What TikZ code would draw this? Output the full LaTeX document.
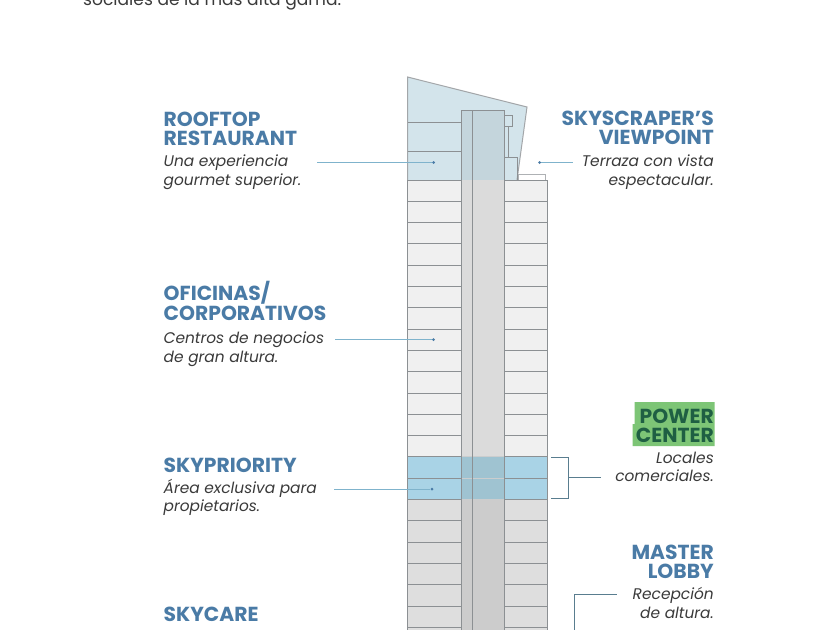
\documentclass[tikz,border=0pt]{standalone}
\usepackage{fontspec}
\setmainfont{Poppins}
\definecolor{headblue}{HTML}{4A7BA6}
\definecolor{leadblue}{HTML}{7FB3CC}
\definecolor{roofblue}{HTML}{D3E4EB}
\definecolor{coreblue}{HTML}{C4D5DC}
\definecolor{bandblue}{HTML}{A9D3E6}
\definecolor{bandcore}{HTML}{9FC3D1}
\definecolor{powergreen}{HTML}{7DC576}
\definecolor{powertext}{HTML}{1F5F43}
\definecolor{gridline}{HTML}{8C9093}
\definecolor{bodytext}{HTML}{3A3A3A}
\tikzset{
	headleft/.style={anchor=north west,align=left,inner sep=0pt,font=\fontsize{20.3}{19.3}\selectfont\bfseries,text=headblue},
	headright/.style={anchor=north east,align=right,inner sep=0pt,font=\fontsize{20.3}{19.3}\selectfont\bfseries,text=headblue},
	subleft/.style={anchor=north west,align=left,inner sep=0pt,font=\fontsize{15.4}{18.3}\selectfont\itshape,text=bodytext},
	subright/.style={anchor=north east,align=right,inner sep=0pt,font=\fontsize{15.4}{18.3}\selectfont\itshape,text=bodytext},
	leadline/.style={draw=leadblue,line width=1pt},
	enddot/.style={circle,fill=headblue,inner sep=0pt,minimum size=3pt},
	gridrule/.style={draw=gridline,line width=1pt},
}
\begin{document}
\begin{tikzpicture}[x=1pt,y=-1pt]
	\def\xa{407.5}
	\def\xb{461}
	\def\xc{472}
	\def\xd{504.5}
	\def\xe{547.5}
	\def\rowh{21.3}
	\def\ytop{180}
	\useasboundingbox (0,0) rectangle (840,630);
	\fill[white] (0,0) rectangle (840,630);
	
	% roof
	\fill[roofblue] (\xa,77) -- (527,107) -- (517,180) -- (\xa,180) -- cycle;
	\draw[gridrule,draw=gridline!80] (\xa,180) -- (\xa,77) -- (527,107) -- (517,180);
	\fill[coreblue] (\xb,110.5) rectangle (\xd,180);
	\draw[gridrule] (\xb,180) -- (\xb,110.5) -- (\xd,110.5) -- (\xd,180);
	\draw[gridrule] (\xc,110.5) -- (\xc,180);
	\draw[gridrule] (\xa,122.5) -- (\xb,122.5);
	\draw[gridrule] (\xa,151.5) -- (\xb,151.5);
	\draw[gridrule,line width=0.7pt] (\xd,115) rectangle (512.5,126.5);
	\draw[gridrule,line width=0.7pt] (508.5,126.5) -- (508.5,157);
	\draw[gridrule,line width=0.7pt] (\xd,157) -- (517,157) -- (517,180);
	\draw[gridline!70,line width=0.7pt] (518,180) -- (518,174) -- (545.5,174) -- (545.5,180);
	
	% floors
	\fill[black!6] (\xa,\ytop) rectangle (\xe,457);
	\fill[black!14] (\xb,\ytop) rectangle (\xd,457);
	\fill[bandblue] (\xa,457) rectangle (\xe,499.5);
	\fill[bandcore] (\xb,457) rectangle (\xd,499.5);
	\fill[black!13] (\xa,499.5) rectangle (\xe,630);
	\fill[black!20] (\xb,499.5) rectangle (\xd,630);
	\foreach \i in {0,...,21} {
		\pgfmathsetmacro{\y}{\ytop+\i*\rowh}
		\draw[gridrule] (\xa,\y) -- (\xb,\y);
		\draw[gridrule] (\xd,\y) -- (\xe,\y);
		\ifnum\i=13
		\draw[gridrule,draw=gridline!45] (\xb,\y) -- (\xd,\y);
		\fi
		\ifnum\i=14
		\draw[gridrule,draw=gridline!45] (\xb,\y) -- (\xd,\y);
		\fi
		\ifnum\i=15
		\draw[gridrule,draw=gridline!45] (\xb,\y) -- (\xd,\y);
		\fi
	}
	\foreach \x in {\xa,\xb,\xc,\xd,\xe} {
		\draw[gridrule] (\x,\ytop) -- (\x,630);
	}
	
	% top paragraph
	\node[anchor=north west,inner sep=0pt,font=\fontsize{17.1}{20}\selectfont,text=bodytext] (intro) at (83,-8.5) {sociales de la más alta gama.};
	
	% left labels
	\node[headleft] (rooftop) at (163.5,111.5) {ROOFTOP\\RESTAURANT};
	\node[subleft] (rooftoptxt) at (163.5,155) {Una experiencia\\gourmet superior.};
	\node[headleft] (oficinas) at (163.5,281.5) {OFICINAS/\\CORPORATIVOS};
	\node[subleft] (oficinastxt) at (163.5,332) {Centros de negocios\\de gran altura.};
	\node[headleft] (skyprio) at (163.5,457.5) {SKYPRIORITY};
	\node[subleft] (skypriotxt) at (163.5,479) {Área exclusiva para\\propietarios.};
	\node[headleft] (skycare) at (163.5,606.5) {SKYCARE};
	
	% right labels
	\fill[powergreen] (634.5,402) rectangle (714.5,424) (632.5,424) rectangle (714.5,446);
	\node[headright,text=powertext] (power) at (714,408.5) {POWER\\CENTER};
	\node[subright] (powertxt) at (714,452) {Locales\\comerciales.};
	\node[headright] (viewpoint) at (714,111) {SKYSCRAPER'S\\VIEWPOINT};
	\node[subright] (viewpointtxt) at (714,155) {Terraza con vista\\espectacular.};
	\node[headright] (lobby) at (714,544.5) {MASTER\\LOBBY};
	\node[subright] (lobbytxt) at (714,587.5) {Recepción\\de altura.};
	
	% leaders
	\node[enddot] (dotroof) at (433.5,162.5) {};
	\node[enddot] (dotview) at (539.5,162.5) {};
	\node[enddot] (dotofi) at (433.5,339.5) {};
	\node[enddot] (dotprio) at (432,489) {};
	\coordinate (roofstart) at (317,162.5);
	\coordinate (viewstart) at (572.5,162.5);
	\coordinate (ofistart) at (335,339.5);
	\coordinate (priostart) at (334,489);
	\draw[leadline] (roofstart) -- (dotroof);
	\draw[leadline] (viewstart) -- (dotview);
	\draw[leadline] (ofistart) -- (dotofi);
	\draw[leadline] (priostart) -- (dotprio);
	
	% brackets
	\coordinate (brtop) at (551,457.5);
	\coordinate (brbot) at (551,498);
	\coordinate (brmid) at (568.5,477.5);
	\coordinate (brout) at (600.5,477.5);
	\draw[gridrule,draw=leadblue!70!black] (brtop) -| (brmid) |- (brbot);
	\draw[leadline,draw=leadblue!70!black] (brmid) -- (brout);
	\coordinate (lobbyend) at (616.5,594.5);
	\coordinate (lobbydown) at (574.5,630);
	\draw[leadline,draw=leadblue!70!black] (lobbyend) -| (lobbydown);
\end{tikzpicture}
\end{document}
